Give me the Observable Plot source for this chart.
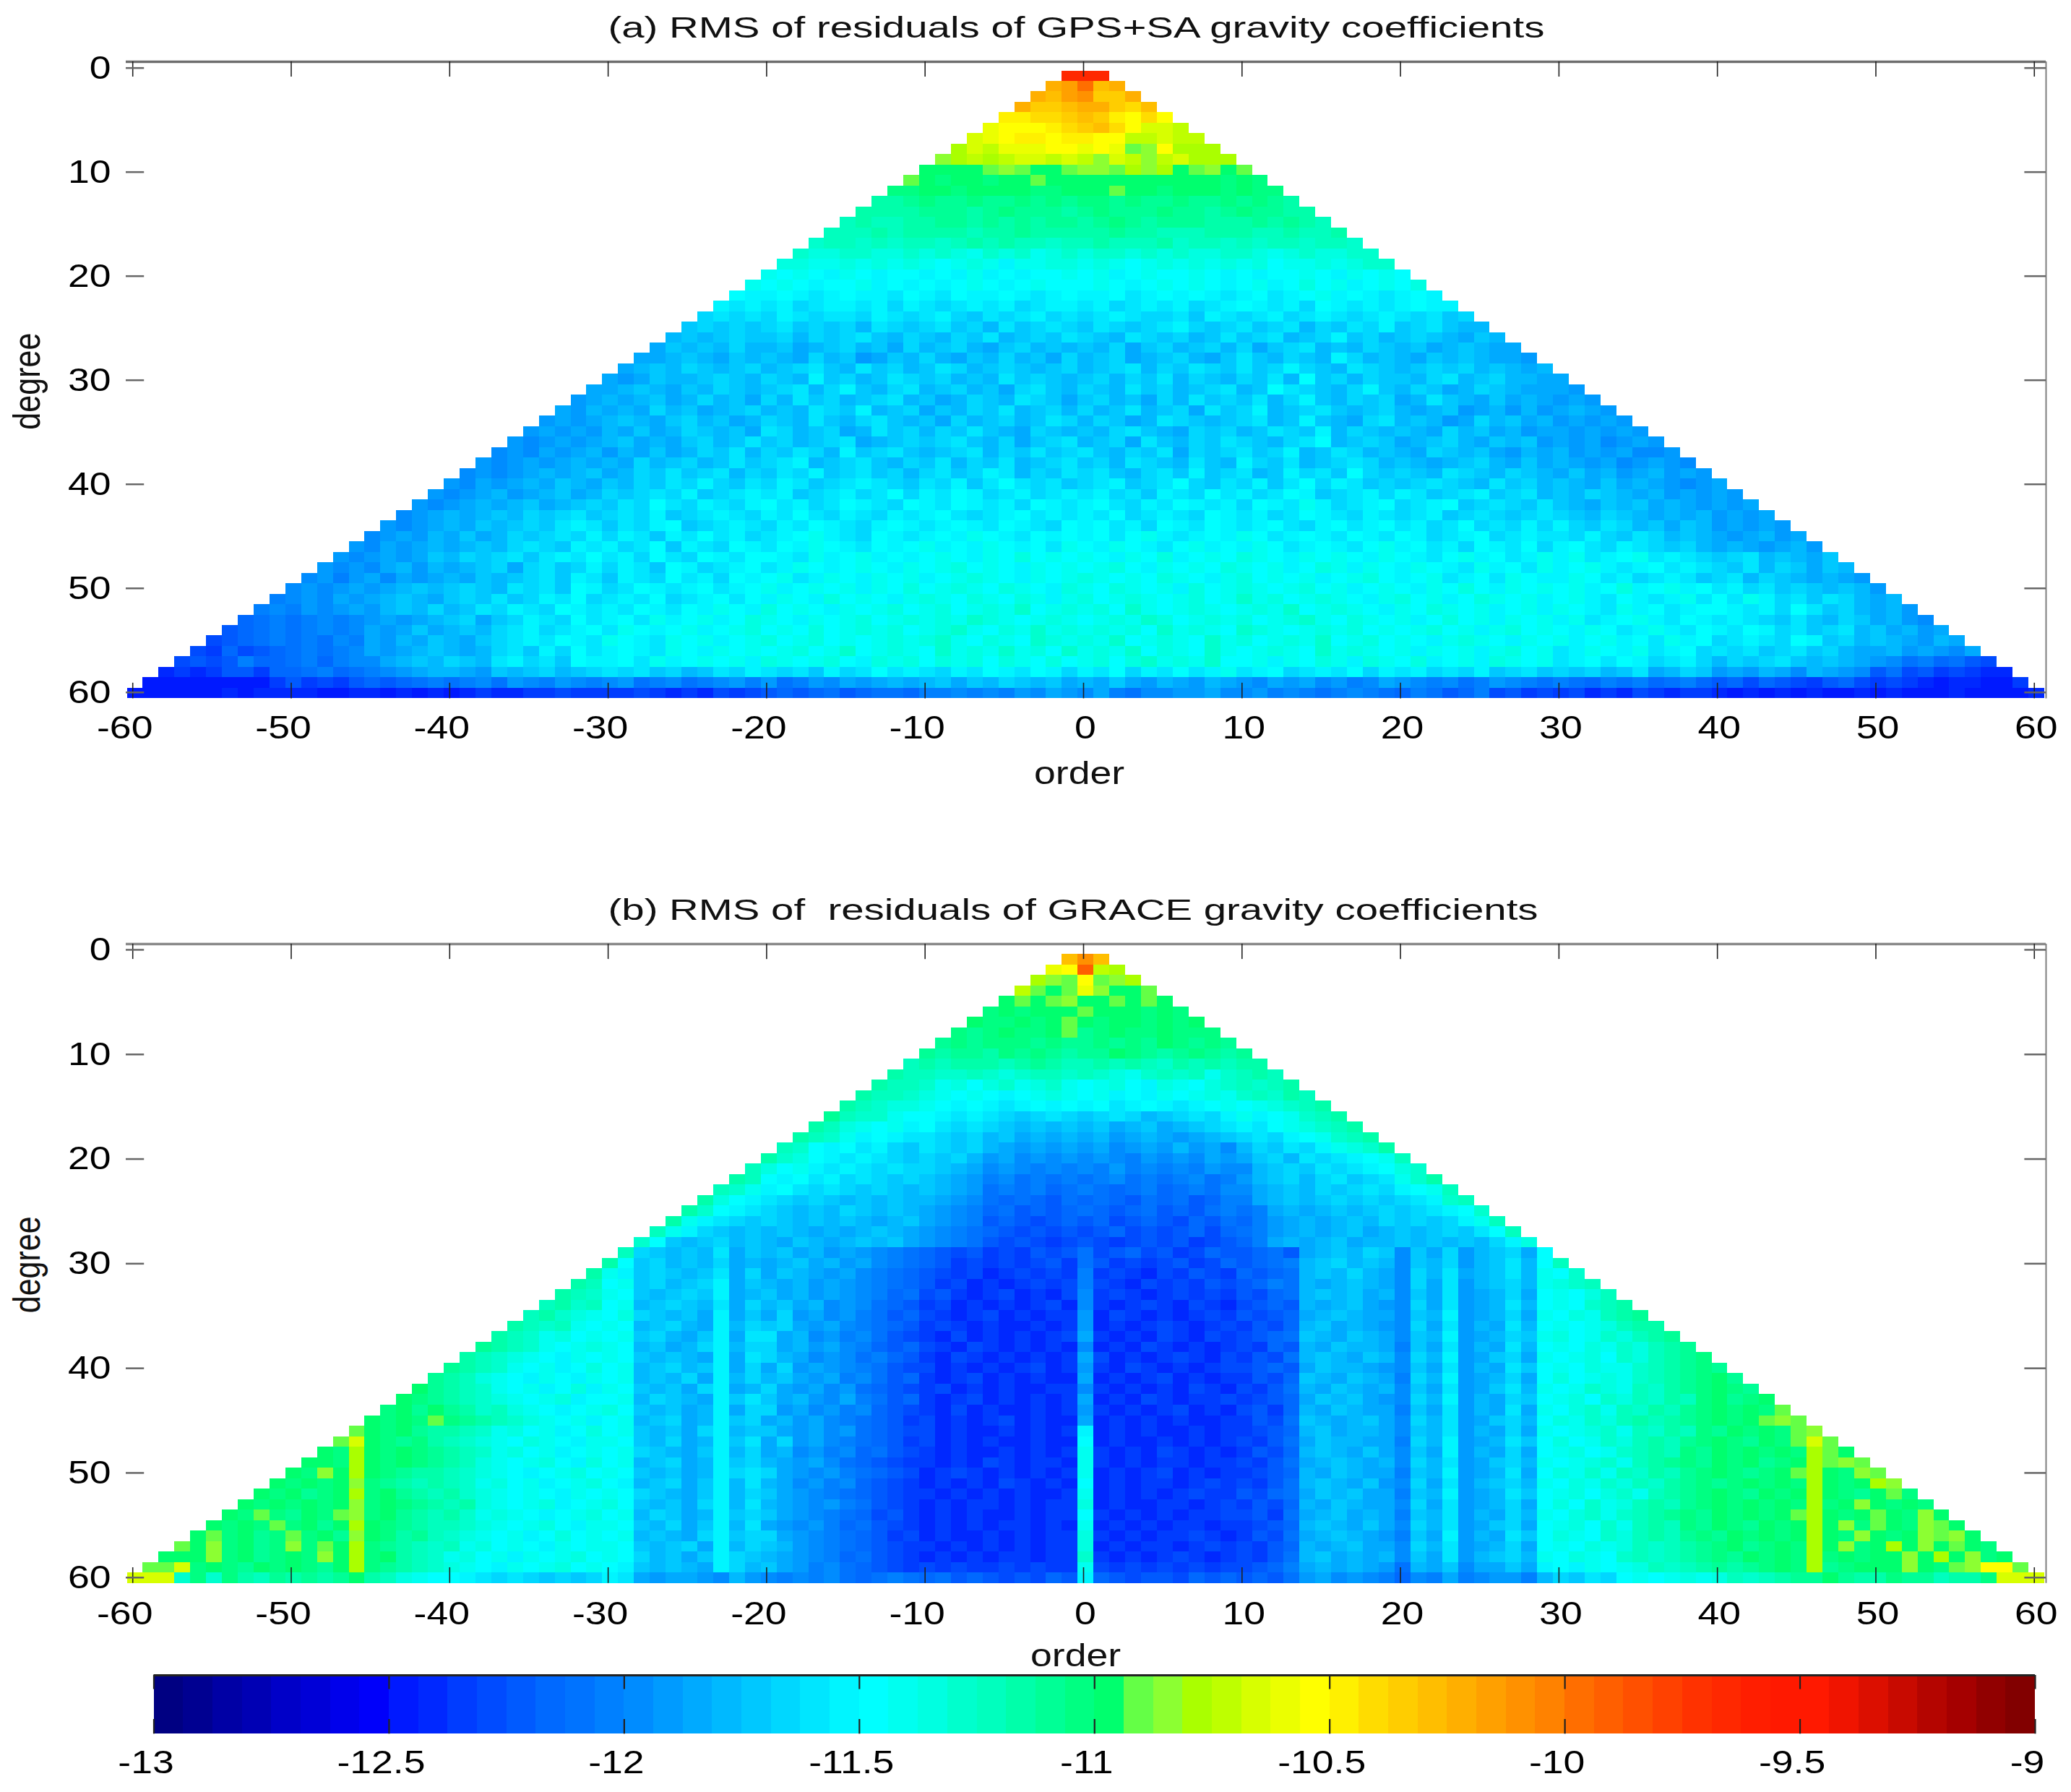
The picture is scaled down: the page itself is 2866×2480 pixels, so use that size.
<!DOCTYPE html>
<html>
<head>
<meta charset="utf-8">
<script src="https://cdn.jsdelivr.net/npm/d3@7"></script>
<script src="https://cdn.jsdelivr.net/npm/@observablehq/plot@0.6"></script>
<style>
html,body{margin:0;padding:0;background:#fff}
svg{display:block;filter:blur(0.6px)}
svg text{white-space:pre}
</style>
</head>
<body>
<div id="chart"></div>
<script>
// Each row is one degree (1..60): orders -d..-1 | orders 0..d. Groups are decades of order.
// Each letter is a colour-bar level: A = -13, then +1/16 per symbol.
const levelSymbols = "ABCDEFGHIJKLMNOPQRSTUVWXYZabcdefghijklmnopqrstuvwxyz0123456789+/";

const gpsSaRows = [
"1|11","st|wrs","srt|uqqs","sqqr|ssqpr","ooppq|rqonpn","mnnnop|qrpnllk","lmnoono|onnkklkk","jlkmmmnn|mnmhinjjj","ijkjkllkl|kilkikljjj",
"gggghihggh|iihjijghigh",
"h gfggfgghgg|gggggggggf gf",
"ff ggfggggffg|gghggfgggf gff",
"dde feefeefefe|ffefeefeef efed",
"dddd eeedefeeed|efeeefeede feedd",
"cdccd deedededee|defedeeedd dededc",
"cccdcd dddcddeddd|ddeddcccdd dccdccd",
"bccbcbc cbcdcdccbc|cdcccdbccb cbccbccb",
"baabbaab abaZbabZab|abbababaab baZabaabb",
"aaZZaZaZa ZYZaZXZZaa|ZaZYZaZaZa ZaYZZaZabb",
"ZYZYXZYXYY XYXZXYXYYZ|YZXYZYYZYX YXYYZYXZYZ Y",
"Z YZYXYYZXYX YXYZYXYZYY|YZYXYZYZYX YZXYaYZXYZ Ya",
"YX XYXWXYXXWY XWYXXYXWXY|XXYWXYXYXW XYWXYZXYXW XYX",
"XWX WXVWXXWXVX WVWXWXVWXX|WXVWXWXVWX YXWXVYXWXW XYXX",
"VWVW VXWVWWVXWV WXVUWVWXVW|VWXWVVWUXW VWXVWXWVWX WVWUV",
"UVUVU VWUVUVTWVU VWUVTWUVWV|UWVUVWXVUV WUVWTVUWVX UVWUTT",
"TUTUVU UVTVUVWUTV UTVUWTUVUW|VUTWVUVTUW UVWTUVXUVT UVUTSUT",
"SUTUTVT TUSTUVTUSV TUVTSUVTUT|UTVSUVTUVT VSUVWTUTVU TUSTUTSS",
"SSTUTSUT UTSVTURSUT VTSUTVTUSV|TUVSTUVTSU WUTVUTXVTU TSUTUTSSR",
"STUTVUTUV TUVWUTWUVT UWVTUVUTUV|TUVWTVUWVU WUVXVUTWVU TUVUVTUTST",
"SRSUTTUVUT VUTXUVTUWV UVTUTWUVUT|UVTVUWTVUT VUWTYUVTVU UTVWTUVTTS S",
"S STUTSUTVUT UVWTVXUTVW TUVTUSVWUT|VUTWUVTUVW TUYWVUTVXU TVUSTVUTSS SR",
"RS TSTUSTVTUS VTWUVTUVWT USTVUTWVUS|UVTUSVTWUV UWTVXUTVUV STWUTSUSTS RSR",
"SRT STSVTUSTUV TUTWVUXTUV SUTVUWTUVT|VTUWTUVSWU VXTUVWUTUV TSTURSTRTR STSR",
"RSRS TUTSUVTUST VUTWUTVWUT USVTUVTUWV|TVUSTWVUTU VWTUXUTSVW TUTRSVTUST RSRSR",
"RSRSR TSUSTVUTUS WVTUVSTWUV TVUWUTSVUT|UTVWUTSVUV TUWVUXTVUT UTSVTUSTRS SRSRSR",
"RQRSRS TUSTSUVTUW UVTUVWSTUV UVWUTVSUVW|TUVSWUTVUW VUTVWYTUVU STUVTSUTUR SRSQRSR",
"QRQSRST RTSUSTVUWT VUWVTXUVWU TUVWTVUWUV|WUTVUWSVUV WUVXTUWVTU TSVUTUSRTS TRSRSQQR",
"RQRSRSTS TSVTUVTUWU VWXTUVWUTV UWTVUWTUVW|UVTWVUTWUT XVUWTUVWVT UTSTUVTSUS TSRSQRSRQ",
"QRQRSTSTU STVUWUVWTV UWVXUVWUVT VWUVXWTVUW|VWUTVWUXUV WTUXVWUYVU VUTWVUTVUT SUSTRSTRSR",
"RQSRSTSUTS UTVUWVXVUW VXWUVWXWVU WVXUWYWVWU|VWXUVWYVUW VXUWYVXWUV UVWVUTWUVT UTSUSTSRQR S",
"R QRSTRSTUST VUVWVXUVWX WXUVWXVWYV XWYXVWXVWX|WXVWUXWVYW XVWYXUVWXV XWUVWXUVWT UTVUTSTRSR SR",
"RQ RSTSTUSTUV UWVYWVXWVX YWXVWYXWVY XWYXWXVYXW|XYWVXWYXWX VYXWZXVWXY VWXYUVWVUW UTSUTUSTSR SRS",
"QRS TSTUTVUVWU VWVXUVWXWV XWYWVXWVXW XYWVWXYWXW|XWYVWXWVYX WXVWYXWVXW VWXUVWVUVW VUTVUTSTST RSRS",
"RQRS TSUTUVUWXW UWVXYUVWXW VXWYXWVXYX WXYXWYXWVY|XYWXVYXWYX WXYWVXYWXY WXVWYVWVXV XVUWVTUSUT RSRSR",
"QRSRT SUSTVUVWVX VXWUXWYWXV WXYZXWVYXW XYXZYXWYXY|XYWYZXWXYX ZYWXYXWYXW YXVWXYVWXW WVXVUWVTUT SRSTRS",
"RQSRST STUTVWVUXW XVWYUXWVYX WYXZYXWYXY ZXYXZYXYWZ|YXZYXWYZXY XZYWXYXWYZ XYWXVYXWYV XYWVXWVUVT STSRSTR",
"RQRSRSU TVUVWUWXWY WXVYWVYXWY YXWZXYZXYX YZYXZYaYZY|ZYXZYaXYZY aZYXZYZYXZ YXWYZXYWXZ XZWXYZWXWV UVWTUTSUST RSTSRQSR",
"RQRQSTRT STUVSVWUVX VXWUYXVWXY WXZYXYZYXZ YZaYZYXZYZ|YZaYXZYZYa ZYZXYaZXZY XZYXWZXYWZ XYZXWXYWXW VUWTVUSUTS SRSQRSRQS",
"QRPRSQSRS TSUTUVWUXW UXWVYWXVYX YZWXZYXZYZ XYZaZYXZYZ|aZYZYaZYXZ aYZYZXYZaY XYZWXYWZYX XZYWXVWXWU VWTVUTSTSR SRQRSRQRRS",
"QRQRSRSTUT UVUTWVWUYX VWYXWXYWXY ZXYZYZXZYa YZaZYaZYXa|ZYaZYZXaYZ aZYZaYZXYZ YXZYaYXZYZ YZXYaXYZXY WXVWUVUTUT RQSRQRQPRQ R",
"P QRQSRSTUTS UVUWUVXWYV WXWYVWXYWY XZYXaYZYXZ aZYaZYaZXZ|aYZaZYZaYZ bZaYZaZYXZ aYZXYaZYZX YZXWYXWXZW YWZXVWUWVT STRQPRQRQP RQ",
"PQ PRQRSRTUTV TUWVXWVYXW XWYXWYXZYX aYZYXZYZaY ZaYZaZbYZa|ZaYbZYZaZY ZaZbYZaZYX ZYaZYZXYZX ZYXWZXYWXY YXWXVYWUVT STRSQRPQRP QRP",
"NOP OPQPQRSRST UVSUVXWVYW XYWZXYZXYa ZYXZYZaYZa ZaZbaZYZaZ|YZaZbaYZaZ aYZabZYaZY ZXYaYZXZYZ XZWXYZXWYX WXWVUWUTVU STRQRSPQOP NQPN",
"MNOP OPQPQSRSUS TUTVWXVWXY WZYXYZXYZa YZYaYZaZaY ZabZYaZbZa|ZaZaYbZaZY baZYZaZaYZ YZaYZXZaYZ YXZYWXZXWY XWYXVWUVWT USTRSRPQOP MOPOM",
"LMNOP OPOQPSRTSU TSUVWXWYXW ZYXWZYZXYZ aYZaYZYZaZ abZYaZYbaZ|aZbYZaZYbZ aYZaZbYZaY ZYXZaZYXZY ZXYZXYWZXY VWXWVYXUVT UTSRTSRQPO PNMONOL",
"LKNLMN OPOPQSRSTU TSTVWUXVYW XYXWZYXZYZ YZaYZbYZaZ YbZaZbZaYb|ZaZbYaZYbZ YZaZYbZaZY ZXZYZXZaYZ WXZYXZWXYV WVWUVWUVTS STRSRQSQPO OMNMLKNM",
"LMLMPNN OPNPQQSTUT VUTWXVWUYX XYWZXYZYZX aZYZaYXaZa YaZaYaZYaY|ZaYabZaZbY YZXZYaZXaZ YaXYZXaZYZ WXYWYXVWXV TVUVWUTUTS RQOPNOML",
"JKJKMMKN NOPNOPQRST TSRUTUVTUV WVWUVTUWVX WVWUXVWYWX WVXWYXWYXV|XWYVXWYWXZ WXYVWXWYVX WXVWVXUVWU VUVTUWSTVU RSRTSQTSRQ MOLMKLKJJ",
"IIK MKLKMNMNOP OPQORQPRQP QROPQOPQRP ROPRQSRSTS TUSUTVUTUS|TSUSRTSRTS RQSRSQRPQS RQPQOPRQPO PONPOPNOPN MNLNMLKMNL KLKJIJJIIK",
"IIIIIIJIJJ JJIIJJIJIJ IJKJJKKLKK KKLKJKJLKL MNMNOMNOON PPQPQPRQSR|QSPOQQRRSQ QRPQPOPQPO NPOMNPLMKL KLJKJLKJKK JIJIJIJIIJ IJIIIJIIII J"
];

const graceRows = [
"r|ur","mn|xkj","jih|nhij","khgh|miggh","ghghi|gghghg","fgfggg|hgggfgf","gffgfgh|gfggfgfg","fefgffgh|efgffgfff","efefffefe|efefegfefe",
"edeedfefed|eegfedefede",
"c dcdddcdedc|cdcdcbdcdcdd",
"dc cbbcbabccb|cbaZbcbcZbcdc",
"dcc bZaYabZabZ|YZaYXaZYab cbcd",
"dccb aZYZYXYZaZ|YZXYXZYZaZ bcbdc",
"dcbaa ZYXYXWXYXY|XYWXYXWXYZ YZabcd",
"ecbbZY YXWXWVUVWV|UVWVTUVWVX ZXYZbcd",
"dcaZYZX YWVWVUTUTU|TUSTUSTUVW XWYZabcd",
"dcbZXYXW WVUVTUSTST|STRSTSRSTU VWVXYZbcd",
"cbYXYWXVU WVUVTSRSRS|RSQRSRTRSQ TVUWVXZabd",
"dbaYXWXWVU VUVTRSQRQR|QRQPRQRQSR SUVTWVWXYZ c",
"c aYZXWXWVWV VUTSQRQPQP|QPRPQPQPRQ QTUVUWVWXY ab",
"dc YXYWXVWVUV UTSRPQOPOP|OPQOPOPQOP RTUVTVWUVW Zbd",
"cbZ XYWVWVUVUT UTSROPOPNO|PONOPNOPOQ QSTUTVUVWV XYZc",
"daYX WVUVUTUTUT TSRQONONMO|NONMONOMNP PSTUTUVUVU VWXbc",
"dbYXW VUTUTVUTUT SRQPNOMNMN|ONMNOMNMOP OPSTSTUTUV UVWXYb",
"dZXWVU VUTUTUTSTU SRQPMNMLMN|MNLMNMLNMO NPRSTSTUTV UVUVXZc",
"cZXVUTU TUTSTSTUTS RQPONMLMLM|LMNLMLMNLN OPRSTSTUST UTUVUWYc",
"bYUTUVTU TSUTSTUTUS RQPOMLMLKL|MLKLMLMKLM NPSTSTUSTT UTUTUTVXa",
"cVUTUTWSU TUSTRSRQPO NMLMKLKMLM|OLMNLMKLNM MNOMSTUTVU QUSVRTUVSY",
"dYUVTUTVST STUSTRSQPO NMKLKLKLMK|OMKLKLMKLN MNOPTUVTUT QUTVRTUWTY c",
"d ZXUVUTUWSV SUTSRSQPON MLKLJKLKLK|PKLKJLKMLK NMNOTUTVTS QVTWSTUWTZ Yb",
"dc YZUVTUVXSU TSTRSRQPON MKLJKJKLKL|PLKJLKLKML MNPOTSTUTS QVSWRTUVTZ abc",
"dcb ZYUTUVUXST USTRSRQPNO LMKJKLJKJL|QKLKJKLKLK MLNOTUTUST QUSWRSTVSY ZYac",
"cdbc YZTUVUTWSV TUSTQRQONM KLJKJKJKLJ|QKJKLKJLKJ LMNMTSTUSR QVSWRSTWTY ZYbcd",
"cdbaZ YaVUTUSXSU SVRSQRPOMN LKJKLJKJKK|RJLKJKJKLK MLMNSTUTSS QUTXRSTVSZ YaZcde",
"dcbcZY ZYTUVTSXTV UVSRSQPONM KLKJKJJKJK|RJKJKLKJKL KMLNTUSTSR QVSWRTSWTY ZYZacdd",
"dcbZaYZ YZUVTSUXSW WSTQRPQOML KJLJKJKJKL|SKJKJLKJLK LMNOUTSUTS QUTXRSTVUZ aYZbacde",
"edcbZYZa ZYTUSTVXTV VSTRSQPNMN LKJLKJKJKJ|QJKJLKJKJK LKNMTSUTTS PUSWRTSWTY ZYaZbacde",
"dcbaZYXZY ZYUTUTSXSW VTSQRQOPNM KJLKJKJKJK|SLJKJKLKJL KMLOTUTSUT QVTXRSUVSZ YZaYbacdef",
"edcbZYZXYa YZTUVTUXSV SVRSRQPOML LJKJKJKLJK|RKJLKJKJKL LMNMSUTTSR QUSWRTSWUY ZYaZZbcdef e",
"e dcaZYXZYXZ YZTUTVSXTV TUSRSPQOMN KJKLJKJKJJ|SJKJKLJKJK KMLNUTSUTS PVTXRSTVSY aYZaZbcdef ge",
"ge dcbZYZXYaX ZYUTUSVXST VSRSQRONML KLJKJKJJKK|QKJKJKJLKJ LKMOTSUTST QUSWRSUWTZ YZbaZcbdef gfe",
"gfe dcbaZYZaXY YZTVUTSXUW USTRQSPOMN KJKLJKJKJK|SJKJLKJKKL KLMNSUTUSR QVTXRTSVUY ZaYbacbdcf gefg",
"fgeg edbcaZYXYZ aYUTUSTXSV VRSQRPQNML KJLJKJJKJK|RKJKJKLJKJ LMKNTSUTSS PUSWRTSWSZ YabZcbdcef gfgfh",
"gfgfh fedcbaZYZX YZTUVSTXUV STRSQPONMK LJKJKLJKJJ|SJKJKJKJJK KMLOUTSTUS QVTWRSUVTY aZbacdcdef gfghih",
"hgfged dcbZaYZXYa YZUTUSVXTU USRSQRONML LJKJJKJKJK|XJKJKJJKJK KLMNTUSTTS QUTWRTSVSZ YZabZcbdcf egfgfhi",
"hlgfefd cbaZYaZYXZ ZYUTVSTXUW SVRSQPONMK LJKJKJJKJJ|YJKJJKJKJK LKMOSUTTSS PVTXRSTWUY aYZbacdcef gfegfhlh",
"gfjgfgfe dcbZaYZXYZ YZVUTSUXTV STQRPQNOML KJKJJKJKJK|ZKJKJLKJKJ KMLNTUTSUS QUSXRTSVSY ZaYZbcdcfe gfgfgfjhg",
"ggfjgfgfe dcaZYZaYXa YZTUVSTXUV TSRSQONMLK KJKJLKJKKJ|ZKJKJKKJKK LKMOSTUTST QVTWRSUVTZ YZabZcdefe gfgefgjhih",
"gfigjgfedd cbaZYXYZaY ZYUTUSTXVW VSRQRPONML JKLKJKJKJK|ZJKJKLJKJK KLMNTSUTSS PUTXRSTWSY aZbZcbdcef gfefghjgfi h",
"g fgfgifedcd cbZaYZXYZa YXTUVSUXTW TSQRPQNMLK JKJKJLKJKJ|YJKJKKJKLK LKMOTUTSUR QVSWRTUVTZ YaZbacbdef efgfgfjgfg ji",
"gf gefgjfgedc dbaZYZYXZY ZYVUTSUXTV USRQPONMLK KJKJKJKJJK|ZJKJKJKLKK MLNOSUTUSS PUTXRSTWUY ZaYabZcdef gfegfgjgfe ghf",
"gfg fgfgifgfed cdaZYZaXYZ aYUTUSVXTW TSRQRPOMLK JKJKKJKJKK|aJKJJKKJKL KMLNTSUTSS QVSWRSTVSY aYbZacdcef gfgfgfjfgi gfgf",
"gfhf egfhifgedc dbZaZYXYZa YZTVUSTXUV USRQPONLMK JKJKJJKJKK|YKJKJKJKKL LMKOSTUSTS PUTWRTSVTZ YabZbcdefe gfgfghjgfg hgfig",
"gfgfh fgegjgfedc cbaZYZaYXZ ZYUTVSUXTW SRQRPNOMLK JKJKJKKJKJ|ZJKJKJKKJK KLMNTUTSUS QVTWRSUVSY ZaYbZcdcfe gfegfgjgif hgfihg",
"ghfgef hfgeigfdec baZYZXYaYZ YZTUTSVXUV VSRQPONMKL JKJJKJKJKK|aKJKJKKLKJ KMLOSTUTSR PUSXRTSWUY aZYbacdcef egfgfgjgfi gfgihig",
"hgifgef ifhgjfedcb cZaYZYXZYZ ZYUTUVSXTV UTRQPONMLK KJKJKJKJKK|aJKJKKJKLK LKMNTSTUSS QVTWRSTVSY ZYaZacbcde fgefgfjgif gjgighgf",
"gggifgef gfigjfgdcb ZaYZXZYZaY ZYVTUSUXVU TSRQPNOMLK JKJKJKKJKK|bKJKJKLKJK LKMOTUSTST QUSWRTUVTZ YaZYbcbcde fegfgfjfgf ggigjgifg",
"hhlfgfegf gfegjfedcb aZYXZYZaYZ YXUTUTSXVT USRPQONMLK LKLKKLKLKK|ZLKLKLKLKL LMNPSTSTSR OTSUQSSUSX YXZYZacbcd edefgfjefg ggigfhinnh",
"lllbfbfdce dedegdcaZY YXWVWVUVUV XWSRSSRQTR QPQPQONOPO NOMNMLMLNM|XNMLMMLNMN MNMORSQRQP NQPSPQRRPT VUWVYZYZaZ acbcdeeged dfeecddfll l"
];

const palette = [
"#000082","#000091","#0000a5","#0000b4","#0000c8","#0000d7","#0000eb","#0000fa",
"#0019ff","#0028ff","#003cff","#004bff","#005aff","#0069ff","#0073ff","#0080ff",
"#008cff","#009bff","#00aaff","#00b9ff","#00c8ff","#00d7ff","#00e6ff","#00f5ff",
"#00ffff","#00fff0","#00ffe1","#00ffcd","#00ffbe","#00ffaa","#00ff96","#00ff82",
"#00ff6e","#64ff46","#8cff32","#aaff00","#beff00","#d7ff00","#ebff00","#ffff00",
"#fff000","#ffdc00","#ffcd00","#ffbe00","#ffaf00","#ffa000","#ff9100","#ff8200",
"#ff6e00","#ff5f00","#ff5000","#ff4100","#ff3200","#ff2800","#ff1e00","#ff1900",
"#ff1900","#f01400","#dc0f00","#c80a00","#b40500","#a50000","#910000","#820000"];

const orderTicks = [-60,-50,-40,-30,-20,-10,0,10,20,30,40,50,60];
const degreeTicks = [0,10,20,30,40,50,60];
const colorbarTicks = [-13,-12.5,-12,-11.5,-11,-10.5,-10,-9.5,-9];
const levelStarts = palette.map((_, i) => -13 + i / 16);

const colorScale = {type: "threshold", domain: levelStarts.slice(1), range: palette};
const fontFamily = "'Liberation Sans', Arial, sans-serif";
const xDomain = [-60.42, 60.74];
const tickFont = 45;

function cellsFrom(rows) {
  const out = [];
  rows.forEach((row, r) => {
    const d = r + 1;
    const [l, rr] = row.replace(/ /g, "").split("|");
    for (let m = -d; m <= d; m++) {
      let c;
      if (m < 0) c = l[l.length + m] ?? l[0];
      else c = rr[m] ?? rr[rr.length - 1];
      out.push({degree: d, order: m, value: -13 + levelSymbols.indexOf(c) / 16});
    }
  });
  return out;
}

function panel(cfg) {
  const [top, bottom] = cfg.yDomain;
  const cells = cellsFrom(cfg.rows);
  const rowTop = d => cfg.firstEdge + (d.degree - 1) * cfg.rowStep;
  return Plot.plot({
    width: 2866, height: cfg.height,
    marginLeft: 174, marginRight: 35, marginTop: cfg.marginTop, marginBottom: cfg.marginBottom,
    style: {fontFamily, background: "#fff", color: "#000", overflow: "visible"},
    x: {domain: xDomain, axis: null},
    y: {domain: cfg.yDomain, reverse: true, axis: null},
    color: colorScale,
    marks: [
      Plot.rect(cells, {
        x1: d => d.order - 0.35, x2: d => d.order + 0.65,
        y1: rowTop, y2: d => rowTop(d) + cfg.rowStep,
        fill: "value", inset: 0, shapeRendering: "crispEdges"
      }),
      Plot.ruleY([top], {stroke: cfg.topStroke, strokeWidth: 3.5}),
      Plot.ruleX([xDomain[1]], {stroke: "#808080", strokeWidth: 2}),
      Plot.ruleX(orderTicks, {x: d => d, y1: top, y2: top + 1.46, stroke: "#222", strokeWidth: 1.6}),
      Plot.ruleX(orderTicks, {x: d => d, y1: bottom - 1.5, y2: bottom, stroke: "#222", strokeWidth: 1.6}),
      Plot.ruleY(degreeTicks, {y: d => d, x1: xDomain[0], x2: xDomain[0] + 1.15, stroke: "#666", strokeWidth: 2.5}),
      Plot.ruleY(degreeTicks, {y: d => d, x1: xDomain[1] - 1.35, x2: xDomain[1], stroke: "#666", strokeWidth: 2.5}),
      Plot.axisX({ticks: orderTicks.filter(t => t < 0), anchor: "bottom", tickSize: 0, tickPadding: cfg.xPad, fontSize: tickFont, dx: -11, label: null, tickFormat: String}),
      Plot.axisX({ticks: orderTicks.filter(t => t >= 0), anchor: "bottom", tickSize: 0, tickPadding: cfg.xPad, fontSize: tickFont, dx: 2.5, label: null, tickFormat: String}),
      Plot.axisY({ticks: degreeTicks, anchor: "left", tickSize: 0, tickPadding: 21, fontSize: tickFont, label: null, tickFormat: String}),
      Plot.text([cfg.title], {text: d => d, x: cfg.titleX, frameAnchor: "top", dy: -63, fontSize: 41, fill: "#111"}),
      Plot.text(["order"], {text: d => d, x: cfg.orderX, frameAnchor: "bottom", dy: cfg.orderDy, fontSize: tickFont, fill: "#111"}),
      Plot.text(["degree"], {text: d => d, y: 30.1, frameAnchor: "left", textAnchor: "middle", dx: -136, rotate: -90, fontSize: 52, fill: "#111"})
    ]
  });
}

function colorbar() {
  const levels = levelStarts.map(v => ({value: v}));
  return Plot.plot({
    width: 2866, height: 170,
    marginLeft: 212.5, marginRight: 50, marginTop: 8, marginBottom: 80.7,
    style: {fontFamily, background: "#fff", color: "#000", overflow: "visible"},
    x: {domain: [-13, -9], axis: null},
    y: {domain: [0, 1], axis: null},
    color: colorScale,
    marks: [
      Plot.rect(levels, {x1: d => d.value, x2: d => d.value + 1 / 16, y1: 0, y2: 1, fill: "value", shapeRendering: "crispEdges"}),
      Plot.ruleY([1], {stroke: "#222", strokeWidth: 3}),
      Plot.ruleX(colorbarTicks, {x: d => d, y1: 0.76, y2: 1, stroke: "#222", strokeWidth: 2.2}),
      Plot.ruleX(colorbarTicks, {x: d => d, y1: 0, y2: 0.25, stroke: "#222", strokeWidth: 2.2}),
      Plot.axisX({ticks: colorbarTicks, anchor: "bottom", tickSize: 0, tickPadding: 22, fontSize: tickFont, dx: -11, label: null, tickFormat: String})
    ]
  });
}

const chartA = panel({
  rows: gpsSaRows, title: "(a) RMS of residuals of GPS+SA gravity coefficients",
  height: 1221, marginTop: 85, marginBottom: 1221 - 966.4,
  yDomain: [-0.6, 60.6], firstEdge: 0.268, rowStep: 1.0055,
  topStroke: "#6e6e6e", xPad: 23, titleX: -0.46, orderX: -0.27, orderDy: 118
});
const chartB = panel({
  rows: graceRows, title: "(b) RMS of  residuals of GRACE gravity coefficients",
  height: 1089, marginTop: 85, marginBottom: 1089 - (2190.7 - 1221),
  yDomain: [-0.55, 60.55], firstEdge: 0.417, rowStep: 1.0022,
  topStroke: "#8a8a8a", xPad: 25, titleX: -0.66, orderX: -0.5, orderDy: 115
});
const chartC = colorbar();

const root = document.getElementById("chart");
root.append(chartA, chartB, chartC);

// The reference's lettering is stretched horizontally.
const titleWidths = new Map([
  ["(a) RMS of residuals of GPS+SA gravity coefficients", 1296],
  ["(b) RMS of  residuals of GRACE gravity coefficients", 1287]
]);
root.querySelectorAll("text").forEach(t => {
  const rotated = (t.getAttribute("transform") || "").includes("rotate");
  const len = t.getComputedTextLength();
  if (!len) return;
  const s = t.textContent;
  const target = titleWidths.get(s) ?? (rotated ? 134 : len * 1.19);
  t.setAttribute("textLength", target);
  t.setAttribute("lengthAdjust", "spacingAndGlyphs");
});
</script>
</body>
</html>
